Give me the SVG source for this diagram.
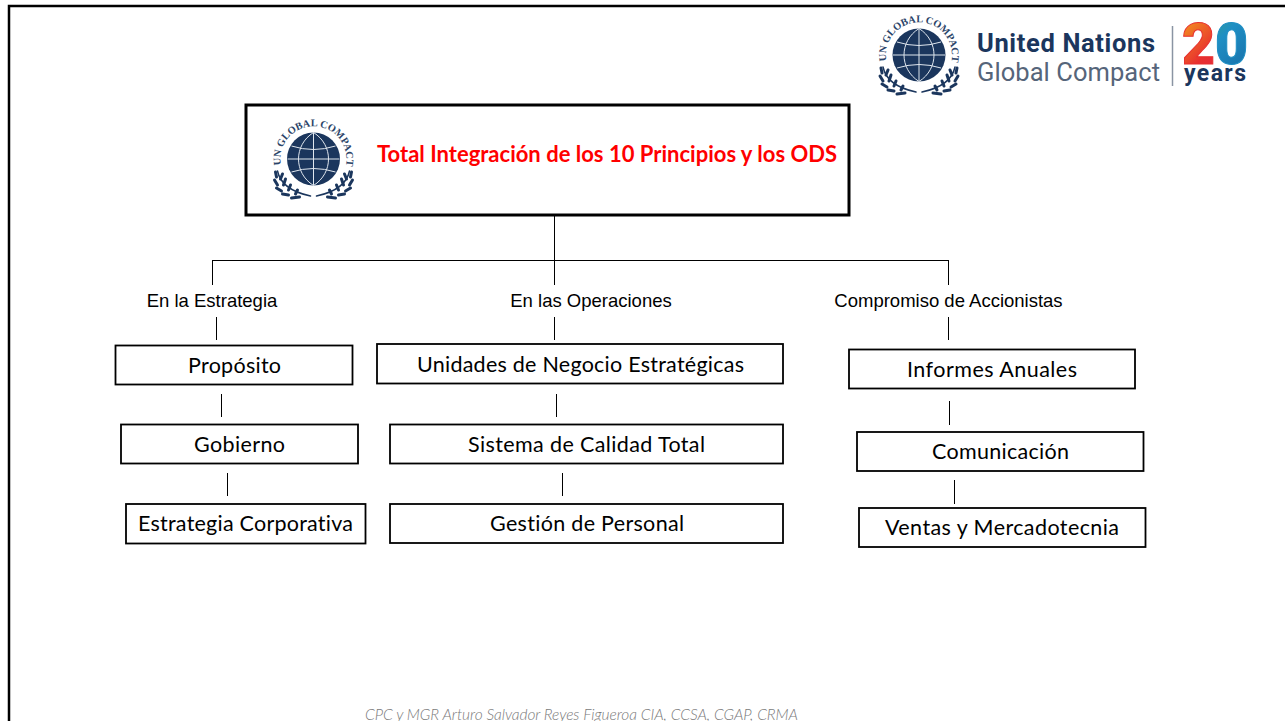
<svg xmlns="http://www.w3.org/2000/svg" width="1285" height="721" viewBox="0 0 1285 721">
<style>
.frame{fill:none;stroke:#000;stroke-width:2.5}
.box{fill:#fff;stroke:#000;stroke-width:1.8}
.main{fill:#fff;stroke:#000;stroke-width:3}
.conn line{stroke:#000;stroke-width:1}
.t{font-family:Lato,"Open Sans",sans-serif;font-size:21.5px;fill:#000;text-anchor:middle;font-variant-ligatures:none}
.l{font-family:"Liberation Sans",Arial,sans-serif;font-size:18.500px;fill:#000;text-anchor:middle}
.navy{fill:#1b365d}
.arc{font-family:"Liberation Serif",serif;font-size:10.300px;font-weight:bold;fill:#2b4468}
.stem{fill:none;stroke:#1b365d;stroke-width:1.500;stroke-linecap:round}
.leaf{fill:none;stroke:#1b365d;stroke-width:3;stroke-linecap:round}
.grid{fill:none;stroke:#dfe6ee;stroke-width:1}
</style>
<defs>
<linearGradient id="g2" x1="0" y1="0" x2="1" y2="1"><stop offset="0" stop-color="#f5a81c"/><stop offset=".5" stop-color="#e8302f"/><stop offset="1" stop-color="#d81e5b"/></linearGradient>
<linearGradient id="g0" x1="0" y1="0" x2="1" y2="1"><stop offset="0" stop-color="#4caf50"/><stop offset=".5" stop-color="#1f8fc4"/><stop offset="1" stop-color="#176aa5"/></linearGradient>
<g id="branch">
<path class="stem" d="M-36 12Q-32 31-3 37"/>
<path class="leaf" d="M-38 13L-37 18M-31 15L-33 20M-39 21L-36 26M-28 20L-30 26M-37 29L-32 32M-23 26L-25 31M-31 35L-25 36M-16 31L-18 35M-22 39L-14 38"/>
</g>
<g id="gc">
<circle class="navy" r="26.500"/>
<path class="grid" d="M0-26.500V26.500M-26 0H26M-22-13Q0-6 22-13M-22 13Q0 6 22 13M0-26.500C-20-14-20 14 0 26.500M0-26.500C20-14 20 14 0 26.500"/>
<path id="arcp" fill="none" d="M-32.500 6A33 33 0 1 1 32.500 6"/>
<text class="arc"><textPath href="#arcp">UN GLOBAL COMPACT</textPath></text>
<use href="#branch"/>
<use href="#branch" transform="scale(-1 1)"/>
</g>
</defs>
<rect width="1285" height="721" fill="#fff"/>
<path class="frame" d="M9 721V6H1285"/>
<g id="un-logo-top">
<use href="#gc" x="919" y="55"/>
<text x="977" y="52" font-family="Roboto,sans-serif" font-size="25.500" font-weight="700" fill="#1b365d" textLength="178">United Nations</text>
<text x="977" y="81" font-family="Roboto,sans-serif" font-size="25.500" fill="#56657a" textLength="183">Global Compact</text>
<line x1="1172.500" y1="26" x2="1172.500" y2="86" stroke="#8a94a3" stroke-width="1.500"/>
<text y="64" font-family="Roboto,sans-serif" font-size="57" font-weight="900" stroke-width="1"><tspan x="1182" fill="url(#g2)" stroke="#e8302f">2</tspan><tspan x="1215" fill="url(#g0)" stroke="#1f8fc4">0</tspan></text>
<text x="1184" y="81" font-family="Roboto,sans-serif" font-size="23" font-weight="700" fill="#1b365d" textLength="62">years</text>
</g>
<g class="conn" id="connectors">
<line x1="554.500" y1="216" x2="554.500" y2="285"/>
<line x1="212" y1="260.500" x2="948" y2="260.500"/>
<line x1="212.500" y1="260" x2="212.500" y2="285"/>
<line x1="948.500" y1="260" x2="948.500" y2="285"/>
<line x1="216.500" y1="317" x2="216.500" y2="340"/>
<line x1="554.500" y1="317" x2="554.500" y2="340"/>
<line x1="948.500" y1="317" x2="948.500" y2="340"/>
<line x1="221.500" y1="394" x2="221.500" y2="417"/>
<line x1="227.500" y1="473" x2="227.500" y2="496"/>
<line x1="556.500" y1="394" x2="556.500" y2="417"/>
<line x1="562.500" y1="473" x2="562.500" y2="496"/>
<line x1="949.500" y1="401" x2="949.500" y2="425"/>
<line x1="954.500" y1="480" x2="954.500" y2="504"/>
</g>
<g id="main-node">
<rect class="main" x="246" y="105" width="603" height="110"/>
<use href="#gc" x="313.500" y="159"/>
<text x="377" y="162" font-family="Lato,'Open Sans',sans-serif" font-size="22" font-weight="700" fill="#f00" textLength="460" style="font-variant-ligatures:none">Total Integración de los 10 Principios y los ODS</text>
</g>
<g id="label-estrategia"><text class="l" x="212" y="307">En la Estrategia</text></g>
<g id="label-operaciones"><text class="l" x="591" y="307">En las Operaciones</text></g>
<g id="label-accionistas"><text class="l" x="948.500" y="307">Compromiso de Accionistas</text></g>
<g id="n-proposito"><rect class="box" x="115.500" y="345.500" width="237" height="39"/><text class="t" x="234.500" y="373" textLength="93">Propósito</text></g>
<g id="n-gobierno"><rect class="box" x="121" y="424.500" width="237" height="39"/><text class="t" x="239.500" y="452" textLength="91">Gobierno</text></g>
<g id="n-estrategia"><rect class="box" x="126" y="504" width="239.500" height="39.500"/><text class="t" x="245.500" y="531" textLength="215">Estrategia Corporativa</text></g>
<g id="n-unidades"><rect class="box" x="377" y="344" width="406" height="39.500"/><text class="t" x="580.500" y="372" textLength="327">Unidades de Negocio Estratégicas</text></g>
<g id="n-sistema"><rect class="box" x="390" y="424.500" width="393" height="39"/><text class="t" x="586.500" y="452" textLength="237">Sistema de Calidad Total</text></g>
<g id="n-gestion"><rect class="box" x="390" y="504" width="393" height="39"/><text class="t" x="587" y="531" textLength="194">Gestión de Personal</text></g>
<g id="n-informes"><rect class="box" x="849" y="349.500" width="286" height="39"/><text class="t" x="992" y="377" textLength="170">Informes Anuales</text></g>
<g id="n-comunicacion"><rect class="box" x="857" y="432" width="286.500" height="39"/><text class="t" x="1000.500" y="459" textLength="137">Comunicación</text></g>
<g id="n-ventas"><rect class="box" x="859" y="508" width="286.500" height="39"/><text class="t" x="1002" y="535" textLength="234">Ventas y Mercadotecnia</text></g>
<text x="365" y="720" font-family="Lato,sans-serif" font-weight="300" font-style="italic" font-size="15.500" fill="#7a7a7a" textLength="433">CPC y MGR Arturo Salvador Reyes Figueroa CIA, CCSA, CGAP, CRMA</text>
</svg>
